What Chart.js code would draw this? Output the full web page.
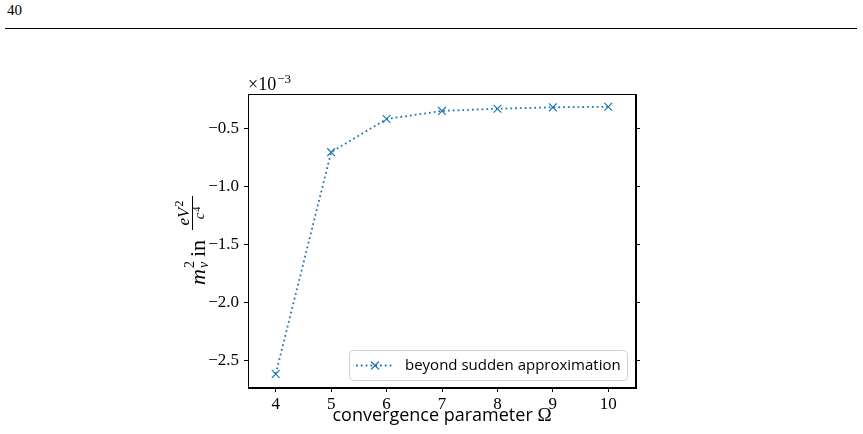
<!DOCTYPE html>
<html>
<head>
<meta charset="utf-8">
<script src="https://cdn.jsdelivr.net/npm/chart.js@4/dist/chart.umd.min.js"></script>
<style>
  html, body { margin: 0; padding: 0; background: #fff; }
  #page { position: relative; width: 863px; height: 434px; overflow: hidden; }
  #pnum { position: absolute; left: 7px; top: 2px; font-family: "Liberation Serif", serif; font-size: 15px; color: #000; }
  #rule { position: absolute; left: 5px; top: 28px; width: 852px; height: 1px; background: #000; }
  #c { position: absolute; left: 0; top: 0; }
</style>
</head>
<body>
<div id="page">
  <div id="pnum">40</div>
  <div id="rule"></div>
  <canvas id="c" width="863" height="434"></canvas>
</div>
<script>
// Data (values in units of 1e-3 eV^2/c^4)
const omega = [4, 5, 6, 7, 8, 9, 10];
const mass2 = [-2.62, -0.706, -0.42, -0.35, -0.331, -0.319, -0.314];
const xTicks = [4, 5, 6, 7, 8, 9, 10];
const yTicks = [-2.5, -2.0, -1.5, -1.0, -0.5];
const seriesLabel = "beyond sudden approximation";
const xTitle = "convergence parameter ";
const offsetText = "×10";
const offsetExp = "−3";

const BLUE = "#1f77b4";
const TICKFONT = '"Liberation Serif", serif';
const SANS = '"Open Sans", sans-serif';

const fmt = v => (v < 0 ? "\u2212" : "") + Math.abs(v).toFixed(1);

const decor = {
  id: "decor",
  afterDatasetsDraw(chart) {
    const ctx = chart.ctx, a = chart.chartArea;
    ctx.save();
    // frame
    ctx.strokeStyle = "#000"; ctx.lineWidth = 1;
    ctx.strokeRect(Math.round(a.left) + 0.5, Math.round(a.top) + 0.5,
                   Math.round(a.right - a.left) - 1, Math.round(a.bottom - a.top) - 1);

    // offset text
    ctx.fillStyle = "#000";
    ctx.textBaseline = "alphabetic";
    ctx.textAlign = "left";
    ctx.font = "18px " + TICKFONT;
    ctx.fillText(offsetText, a.left, a.top - 4);
    const w = ctx.measureText(offsetText).width;
    ctx.font = "13px " + TICKFONT;
    ctx.fillText(offsetExp, a.left + w + 1, a.top - 11);

    // legend
    const lx = 349, ly = 350, lw = 278, lh = 30;
    ctx.beginPath();
    if (ctx.roundRect) ctx.roundRect(lx + 0.5, ly + 0.5, lw, lh, 4); else ctx.rect(lx + 0.5, ly + 0.5, lw, lh);
    ctx.fillStyle = "rgba(255,255,255,0.8)"; ctx.fill();
    ctx.strokeStyle = "#d0d0d0"; ctx.lineWidth = 1; ctx.stroke();
    const cy = ly + lh / 2 + 0.5;
    ctx.strokeStyle = BLUE; ctx.lineWidth = 1.8; ctx.setLineDash([1.8, 3]);
    ctx.beginPath(); ctx.moveTo(356, cy); ctx.lineTo(393, cy); ctx.stroke();
    ctx.setLineDash([]);
    ctx.lineWidth = 1.2;
    ctx.beginPath();
    ctx.moveTo(371, cy - 4); ctx.lineTo(379, cy + 4);
    ctx.moveTo(379, cy - 4); ctx.lineTo(371, cy + 4);
    ctx.stroke();
    ctx.fillStyle = "#000";
    ctx.font = "15px " + SANS;
    ctx.textBaseline = "middle";
    ctx.fillText(seriesLabel, 405, cy);

    // x title
    ctx.textBaseline = "alphabetic";
    ctx.font = "18px " + SANS;
    const t1w = ctx.measureText(xTitle).width;
    ctx.font = "19px " + TICKFONT;
    const t2w = ctx.measureText("Ω").width;
    const xc = (a.left + a.right) / 2;
    let sx = xc - (t1w + t2w) / 2;
    ctx.font = "18px " + SANS;
    ctx.fillText(xTitle, sx, 421);
    ctx.font = "19px " + TICKFONT;
    ctx.fillText("Ω", sx + t1w, 421);

    // y title (rotated): local u runs upward along the label, v to the right
    ctx.translate(205, 285);
    ctx.rotate(-Math.PI / 2);
    ctx.textBaseline = "alphabetic";
    ctx.fillStyle = "#000";
    ctx.font = "italic 22px " + TICKFONT; ctx.fillText("m", 0, 0);
    ctx.font = "14px " + TICKFONT; ctx.fillText("2", 17, -11);
    ctx.font = "italic 14px " + TICKFONT; ctx.fillText("ν", 17, 3);
    ctx.font = "22px " + TICKFONT; ctx.fillText("in", 28, 0);
    // fraction
    const f0 = 55, f1 = 89;
    ctx.font = "italic 17px " + TICKFONT;
    const eVW = ctx.measureText("eV").width;
    ctx.font = "12px " + TICKFONT;
    const s2W = ctx.measureText("2").width;
    const numW = eVW + 1 + s2W;
    const nx = f0 + (f1 - f0 - numW) / 2;
    ctx.font = "italic 17px " + TICKFONT; ctx.fillText("eV", nx, -16);
    ctx.font = "12px " + TICKFONT; ctx.fillText("2", nx + eVW + 1, -22);
    ctx.lineWidth = 1; ctx.strokeStyle = "#000";
    ctx.beginPath(); ctx.moveTo(f0, -12.5); ctx.lineTo(f1, -12.5); ctx.stroke();
    ctx.font = "italic 15px " + TICKFONT;
    const cW = ctx.measureText("c").width;
    ctx.font = "10px " + TICKFONT;
    const s4W = ctx.measureText("4").width;
    const denW = cW + 1 + s4W;
    const dx = f0 + (f1 - f0 - denW) / 2;
    ctx.font = "italic 15px " + TICKFONT; ctx.fillText("c", dx, -1);
    ctx.font = "10px " + TICKFONT; ctx.fillText("4", dx + cW + 1, -5);
    ctx.restore();
  }
};

new Chart(document.getElementById("c"), {
  type: "line",
  data: {
    datasets: [{
      label: seriesLabel,
      data: omega.map((x, i) => ({ x: x, y: mass2[i] })),
      borderColor: BLUE,
      backgroundColor: BLUE,
      borderWidth: 1.8,
      borderDash: [1.8, 3],
      pointStyle: "crossRot",
      pointRadius: 5.5,
      pointBorderWidth: 1.2,
      pointBorderColor: BLUE,
      fill: false,
      tension: 0
    }]
  },
  options: {
    responsive: false,
    devicePixelRatio: 1,
    animation: false,
    events: [],
    layout: { padding: { top: 94, right: 221, left: 0, bottom: 0 } },
    plugins: { legend: { display: false }, tooltip: { enabled: false } },
    scales: {
      x: {
        type: "linear",
        min: 3.5, max: 10.5,
        afterBuildTicks: s => { s.ticks = xTicks.map(v => ({ value: v })); },
        afterFit: s => { s.height = 46; },
        grid: { drawOnChartArea: false, drawTicks: true, tickLength: 4, tickColor: "#000" },
        border: { display: true, color: "#000" },
        ticks: { color: "#000", font: { family: TICKFONT, size: 17 }, padding: 2, maxRotation: 0,
                 callback: v => String(v) }
      },
      y: {
        type: "linear",
        min: -2.741, max: -0.204,
        afterBuildTicks: s => { s.ticks = yTicks.map(v => ({ value: v })); },
        afterFit: s => { s.width = 248; },
        grid: { drawOnChartArea: false, drawTicks: true, tickLength: 4, tickColor: "#000" },
        border: { display: true, color: "#000" },
        ticks: { color: "#000", font: { family: TICKFONT, size: 17 }, padding: 5,
                 callback: v => fmt(v) }
      },
      y2: {
        type: "linear",
        position: "right",
        min: -2.741, max: -0.204,
        afterBuildTicks: s => { s.ticks = yTicks.map(v => ({ value: v })); },
        afterFit: s => { s.width = 6; },
        grid: { drawOnChartArea: false, drawTicks: true, tickLength: 4, tickColor: "#000" },
        border: { display: true, color: "#000" },
        ticks: { display: false }
      }
    }
  },
  plugins: [decor]
});
</script>
</body>
</html>
